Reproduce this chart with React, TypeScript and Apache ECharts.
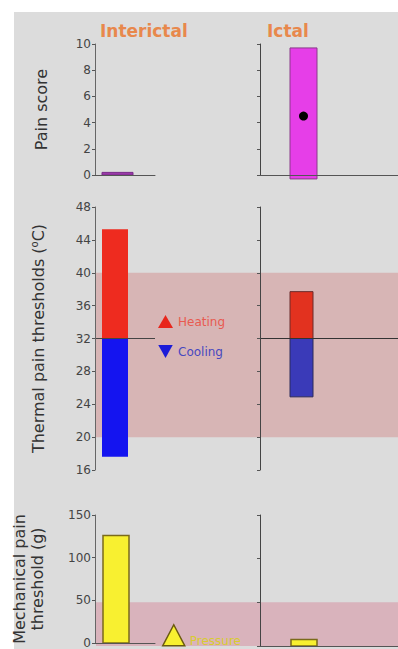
import React, { useEffect, useRef } from 'react';
import * as echarts from 'echarts';

// ---- data ----
const phases = ['Interictal', 'Ictal'];
const painLow = [0, -0.3];
const painHigh = [0.2, 9.7];
const painMean = [null, 4.5];
const thermalBaseline = 32;
const heatingThreshold = [45.3, 37.7];
const coolingThreshold = [17.6, 24.9];
const mechanicalThreshold = [126, 7.3];
const thermalNormalRange = [20, 40];
const mechanicalNormalRange = [0, 50];
const painAxis = { min: 0, max: 10, interval: 2 };
const thermalAxis = { min: 16, max: 48, interval: 4 };
const mechanicalAxis = { min: 0, max: 150, interval: 50 };

const FONT = 'DejaVu Sans, Verdana, sans-serif';

function rangeBar(inset: number, barWidth: number, fill: string, stroke: string, lw: number) {
  return (params: any, api: any) => {
    const cat = api.value(0);
    const top = api.coord([cat, api.value(2)]);
    const bottom = api.coord([cat, api.value(1)]);
    const cs = params.coordSys;
    const x = cs.x + inset;
    const children: any[] = [
      {
        type: 'rect',
        shape: { x, y: top[1], width: barWidth, height: bottom[1] - top[1] },
        style: { fill, stroke, lineWidth: lw },
      },
    ];
    const mean = api.value(3);
    if (mean != null && !isNaN(mean)) {
      const m = api.coord([cat, mean]);
      children.push({ type: 'circle', shape: { cx: x + barWidth / 2, cy: m[1], r: 4.5 }, style: { fill: '#000' } });
    }
    return { type: 'group', children };
  };
}

export default function App() {
  const ref = useRef<HTMLDivElement>(null);
  useEffect(() => {
    if (!ref.current) return;
    const chart = echarts.init(ref.current, null, { renderer: 'svg' });

    const rows = [
      { top: 44, height: 131 },
      { top: 207, height: 263 },
      { top: 515, height: 131 },
    ];
    const grids: any[] = [];
    rows.forEach((r) => {
      grids.push({ left: 95, top: r.top, width: 60, height: r.height });
      grids.push({ left: 260, top: r.top, right: 0, height: r.height });
    });
    // band grids
    grids.push({ left: 96, top: rows[1].top, right: 0, height: rows[1].height });
    grids.push({ left: 96, top: rows[2].top, right: 0, height: rows[2].height });

    const axisRanges = [painAxis, painAxis, thermalAxis, thermalAxis, mechanicalAxis, mechanicalAxis];
    const names = [
      'Pain score',
      '',
      'Thermal pain thresholds ({sup|o}C)',
      '',
      'Mechanical pain\nthreshold (g)',
      '',
    ];
    const nameGaps = [45, 0, 48, 0, 49, 0];

    const xAxis: any[] = grids.map((_, i) => ({
      type: 'category',
      gridIndex: i,
      data: [phases[i % 2]],
      show: i < 6,
      axisLine: { show: i < 6 && (i < 2 || i > 3), lineStyle: { color: '#555', width: 1 } },
      axisTick: { show: false },
      axisLabel: { show: false },
      z: 5,
    }));

    const yAxis: any[] = grids.map((_, i) => {
      if (i >= 6) {
        const r = i === 6 ? thermalAxis : mechanicalAxis;
        return { type: 'value', gridIndex: i, show: false, min: r.min, max: r.max };
      }
      const r = axisRanges[i];
      const col = i % 2;
      return {
        type: 'value',
        gridIndex: i,
        min: r.min,
        max: r.max,
        interval: r.interval,
        splitLine: { show: false },
        axisLine: { show: true, lineStyle: { color: col === 0 ? '#666' : '#444', width: 1 } },
        axisTick: { show: true, length: 3, lineStyle: { color: '#555' } },
        axisLabel: { show: col === 0, color: '#444', fontSize: 12, fontFamily: FONT, margin: 4 },
        name: names[i],
        nameLocation: 'middle',
        nameGap: nameGaps[i],
        nameTextStyle: {
          color: '#333',
          fontSize: 16,
          fontFamily: FONT,
          lineHeight: 18,
          rich: {
            sup: { fontSize: 10, fontFamily: FONT, color: '#333', verticalAlign: 'top', padding: [0, 0, 10, 0] },
          },
        },
        z: 5,
      };
    });

    const series: any[] = [
      // normal ranges
      {
        type: 'line',
        xAxisIndex: 6,
        yAxisIndex: 6,
        data: [],
        z: 1,
        silent: true,
        markArea: {
          silent: true,
          itemStyle: { color: '#d7b5b5' },
          data: [[{ yAxis: thermalNormalRange[0] }, { yAxis: thermalNormalRange[1] }]],
        },
      },
      {
        type: 'line',
        xAxisIndex: 7,
        yAxisIndex: 7,
        data: [],
        z: 1,
        silent: true,
        markArea: {
          silent: true,
          itemStyle: { color: '#d9b3bc' },
          data: [[{ yAxis: mechanicalNormalRange[0] }, { yAxis: mechanicalNormalRange[1] }]],
        },
      },
      // pain
      {
        name: 'Pain score',
        type: 'custom',
        xAxisIndex: 0,
        yAxisIndex: 0,
        clip: false,
        z: 3,
        renderItem: rangeBar(7, 31, '#9a3aa8', '#7a2a8a', 1),
        data: [[0, painLow[0], painHigh[0]]],
      },
      {
        name: 'Pain score',
        type: 'custom',
        xAxisIndex: 1,
        yAxisIndex: 1,
        clip: false,
        z: 3,
        renderItem: rangeBar(30, 27, '#e63ee8', '#8a3a8a', 1),
        data: [[0, painLow[1], painHigh[1], painMean[1]]],
      },
      // thermal
      {
        name: 'Heating',
        type: 'custom',
        xAxisIndex: 2,
        yAxisIndex: 2,
        clip: false,
        z: 3,
        itemStyle: { color: '#ee2b1f' },
        renderItem: rangeBar(7, 26, '#ee2b1f', 'rgba(0,0,0,0)', 0),
        data: [[0, thermalBaseline, heatingThreshold[0]]],
      },
      {
        name: 'Cooling',
        type: 'custom',
        xAxisIndex: 2,
        yAxisIndex: 2,
        clip: false,
        z: 3,
        itemStyle: { color: '#1414f0' },
        renderItem: rangeBar(7, 26, '#1414f0', 'rgba(0,0,0,0)', 0),
        data: [[0, coolingThreshold[0], thermalBaseline]],
      },
      {
        name: 'Heating',
        type: 'custom',
        xAxisIndex: 3,
        yAxisIndex: 3,
        clip: false,
        z: 3,
        itemStyle: { color: '#ee2b1f' },
        renderItem: rangeBar(30, 23, '#e2321f', '#6a2a2a', 1),
        data: [[0, thermalBaseline, heatingThreshold[1]]],
      },
      {
        name: 'Cooling',
        type: 'custom',
        xAxisIndex: 3,
        yAxisIndex: 3,
        clip: false,
        z: 3,
        itemStyle: { color: '#1414f0' },
        renderItem: rangeBar(30, 23, '#3a3ab8', '#2a2a5a', 1),
        data: [[0, coolingThreshold[1], thermalBaseline]],
      },
      // baseline lines
      {
        type: 'line',
        xAxisIndex: 2,
        yAxisIndex: 2,
        data: [],
        z: 4,
        silent: true,
        markLine: {
          silent: true,
          symbol: 'none',
          label: { show: false },
          lineStyle: { color: '#444', width: 1, type: 'solid' },
          data: [{ yAxis: thermalBaseline }],
        },
      },
      {
        type: 'line',
        xAxisIndex: 3,
        yAxisIndex: 3,
        data: [],
        z: 4,
        silent: true,
        markLine: {
          silent: true,
          symbol: 'none',
          label: { show: false },
          lineStyle: { color: '#333', width: 1, type: 'solid' },
          data: [{ yAxis: thermalBaseline }],
        },
      },
      // mechanical
      {
        name: 'Pressure',
        type: 'custom',
        xAxisIndex: 4,
        yAxisIndex: 4,
        clip: false,
        z: 3,
        itemStyle: { color: '#f8f030' },
        renderItem: rangeBar(8, 26, '#f8f030', '#7a6a1a', 1.5),
        data: [[0, 0, mechanicalThreshold[0]]],
      },
      {
        name: 'Pressure',
        type: 'custom',
        xAxisIndex: 5,
        yAxisIndex: 5,
        clip: false,
        z: 3,
        itemStyle: { color: '#f8f030' },
        renderItem: rangeBar(31, 26, '#f8f030', '#7a6a1a', 1.5),
        data: [[0, 0, mechanicalThreshold[1]]],
      },
    ];

    chart.setOption({
      animation: false,
      backgroundColor: '#ffffff',
      graphic: [
        {
          type: 'rect',
          left: 14,
          top: 12,
          z: -10,
          silent: true,
          shape: { width: 384, height: 637 },
          style: { fill: '#dcdcdc' },
        },
      ],
      title: [
        {
          text: 'Interictal',
          left: 100,
          top: 22,
          padding: 0,
          textStyle: { color: '#e8884c', fontSize: 17, fontWeight: 'bold', fontFamily: FONT },
        },
        {
          text: 'Ictal',
          left: 267,
          top: 22,
          padding: 0,
          textStyle: { color: '#e8884c', fontSize: 17, fontWeight: 'bold', fontFamily: FONT },
        },
      ],
      legend: [
        {
          orient: 'vertical',
          left: 158,
          top: 315,
          padding: 0,
          itemWidth: 15,
          itemHeight: 13,
          itemGap: 17,
          selectedMode: false,
          textStyle: { fontSize: 12, fontFamily: FONT },
          data: [
            { name: 'Heating', icon: 'triangle', itemStyle: { color: '#e8261c' }, textStyle: { color: '#e85a50' } },
            {
              name: 'Cooling',
              icon: 'path://M0,0L10,0L5,9Z',
              itemStyle: { color: '#1c1cd8' },
              textStyle: { color: '#4848c0' },
            },
          ],
        },
        {
          left: 162,
          top: 624,
          padding: 0,
          itemWidth: 22,
          itemHeight: 21,
          itemGap: 4,
          selectedMode: false,
          formatter: (name: string) => `{low|${name}}`,
          textStyle: {
            fontSize: 12,
            fontFamily: FONT,
            color: '#d8cc30',
            rich: { low: { fontSize: 12, fontFamily: FONT, color: '#d8cc30', padding: [12, 0, 0, 0] } },
          },
          data: [
            {
              name: 'Pressure',
              icon: 'triangle',
              itemStyle: { color: '#f8f030', borderColor: '#6a5a10', borderWidth: 1.5 },
            },
          ],
        },
      ],
      grid: grids,
      xAxis,
      yAxis,
      series,
    });
    return () => chart.dispose();
  }, []);

  return (
    <div
      ref={ref}
      style={{ position: 'absolute', left: 0, top: 0, width: 398, height: 649, background: '#fff' }}
    />
  );
}
